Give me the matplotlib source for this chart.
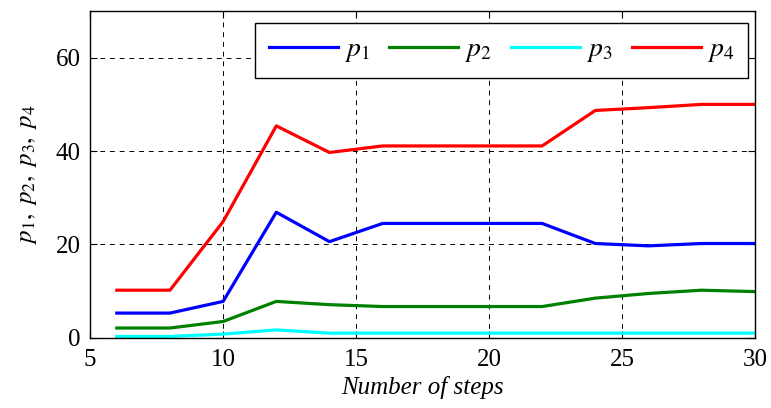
import numpy as np
from matplotlib import pyplot as plt

plt.rcParams['font.family'] = 'serif'
plt.rcParams['font.serif'] = ['Liberation Serif', 'DejaVu Serif']
plt.rcParams['mathtext.fontset'] = 'stix'

steps = [6, 8, 10, 12, 14, 16, 18, 20, 22, 24, 26, 28, 30]
p1 = [5.3, 5.3, 7.8, 26.9, 20.6, 24.5, 24.5, 24.5, 24.5, 20.2, 19.7, 20.2, 20.2]
p2 = [2.1, 2.1, 3.5, 7.8, 7.1, 6.7, 6.7, 6.7, 6.7, 8.5, 9.5, 10.2, 9.9]
p3 = [0.3, 0.3, 0.8, 1.7, 1.0, 1.0, 1.0, 1.0, 1.0, 1.0, 1.0, 1.0, 1.0]
p4 = [10.2, 10.2, 24.9, 45.4, 39.7, 41.1, 41.1, 41.1, 41.1, 48.7, 49.3, 50.0, 50.0]

fig = plt.figure(figsize=(7.71, 4.08), dpi=100)
ax = fig.add_axes([0.117, 0.172, 0.862, 0.801])

ax.plot(steps, p1, color='#0000ff', lw=2.3, label=r'$p_{\mathit{1}}$')
ax.plot(steps, p2, color='#008000', lw=2.3, label=r'$p_{\mathit{2}}$')
ax.plot(steps, p3, color='#00ffff', lw=2.3, label=r'$p_{\mathit{3}}$')
ax.plot(steps, p4, color='#ff0000', lw=2.3, label=r'$p_{\mathit{4}}$')

ax.set_xlim(5, 30)
ax.set_ylim(0, 70)
ax.set_xticks([5, 10, 15, 20, 25, 30])
ax.set_yticks([0, 20, 40, 60])
ax.grid(True, color='black', linestyle=(0, (5, 5)), lw=0.7)
ax.tick_params(direction='in', top=True, right=True, labelsize=18, length=5)
ax.tick_params(axis='x', pad=8)
ax.tick_params(axis='y', pad=7)
for s in ax.spines.values():
    s.set_linewidth(1)

ax.set_xlabel('Number of steps', fontsize=18, fontstyle='italic', labelpad=4)
ax.set_ylabel(r'$p_{\mathit{1}},\ p_{\mathit{2}},\ p_{\mathit{3}},\ p_{\mathit{4}}$',
              fontsize=18, labelpad=12)

leg = ax.legend(ncol=4, loc='upper right', bbox_to_anchor=(0.9895, 0.963), borderaxespad=0,
                fontsize=20, handlelength=2.5, columnspacing=0.7, handletextpad=0.2,
                fancybox=False, framealpha=1, edgecolor='black', borderpad=0.5)
leg.get_frame().set_linewidth(1)

plt.savefig('out.png', dpi=100)
